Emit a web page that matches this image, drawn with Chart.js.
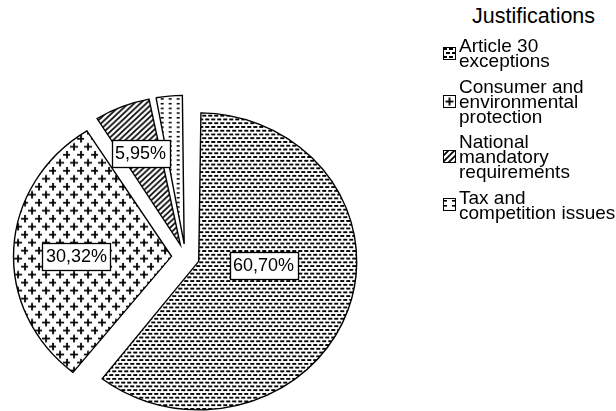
<!DOCTYPE html>
<html>
<head>
<meta charset="utf-8">
<script src="https://cdn.jsdelivr.net/npm/chart.js@4.4.1/dist/chart.umd.min.js"></script>
<style>
  html, body { margin:0; padding:0; background:#fff; overflow:hidden; }
  body { width:616px; height:411px; position:relative; font-family:"Liberation Sans", Arial, sans-serif; color:#000; }
  #pieBox { position:absolute; left:0; top:0; width:371px; height:514px; }
  #legendTitle { position:absolute; left:472px; top:5px; font-size:21.5px; line-height:22px; }
  #legend { position:absolute; left:443px; top:38px; }
  .item { display:flex; align-items:center; margin-bottom:10.5px; font-size:19px; line-height:15px; white-space:nowrap; }
  .item canvas { margin-right:3px; flex:none; }
</style>
</head>
<body>
<div id="pieBox"><canvas id="pie"></canvas></div>
<div id="legendTitle"></div>
<div id="legend"></div>
<script>
// ===== Data =====
const legendTitle = "Justifications";
const categories = [
  ["Article 30", "exceptions"],
  ["Consumer and", "environmental", "protection"],
  ["National", "mandatory", "requirements"],
  ["Tax and", "competition issues"]
];
const shares = [60.70, 30.32, 5.95, 3.03];

// ===== Look =====
const R = 158;        // pie radius, px
const SQUASH = 0.94;  // pie is drawn slightly flattened
const OFFSET = 14;    // how far each slice is pulled out, px
// where the value boxes sit: [fraction of radius, angle in degrees], null = no box
const labelSpots = [[0.497, 6.2], [0.69, 180.5], [0.717, 246.6], null];
const FONT = '"Liberation Sans", Arial, sans-serif';

// ===== Pattern tiles =====
function tile(w, h, draw){
  const c = document.createElement("canvas");
  c.width = w; c.height = h;
  const g = c.getContext("2d");
  g.fillStyle = "#fff"; g.fillRect(0, 0, w, h);
  g.fillStyle = "#000"; g.strokeStyle = "#000";
  draw(g);
  return c;
}
function plus(g, x, y){
  g.fillRect(x - 4, y - 0.9, 8, 1.8);
  g.fillRect(x - 0.9, y - 4, 1.8, 8);
}
const tiles = [
  // small staggered dashes
  tile(6, 8, g => { g.fillRect(0, 1, 4, 2); g.fillRect(3, 5, 3, 2); g.fillRect(0, 5, 1, 2); }),
  // plus signs
  tile(14, 17, g => { plus(g, 4, 4.5); plus(g, 11, 13); }),
  // forward hatch
  tile(6, 6, g => {
    g.lineWidth = 1.7;
    g.beginPath();
    g.moveTo(-1, 7); g.lineTo(7, -1);
    g.moveTo(-1, 1); g.lineTo(1, -1);
    g.moveTo(5, 7); g.lineTo(7, 5);
    g.stroke();
  }),
  // sparse dashes
  tile(8, 5, g => { g.fillRect(2, 2, 3, 1.6); })
];
const scratch = document.createElement("canvas").getContext("2d");
const fills = tiles.map(t => scratch.createPattern(t, "repeat"));

// ===== Plugins =====
// arc.draw grows a pulled-out slice's radius; shrink it back so every slice has radius R
const evenRadius = {
  id: "evenRadius",
  afterDatasetsUpdate(chart){
    chart.getDatasetMeta(0).data.forEach(arc => {
      const c = arc.endAngle - arc.startAngle;
      const fix = 1 - Math.sin(Math.min(Math.PI, c));
      arc.outerRadius = R - OFFSET * fix;
    });
  }
};

// flatten the slices a little around the pie centre
const squash = {
  id: "squash",
  beforeDatasetsDraw(chart){
    const arc = chart.getDatasetMeta(0).data[0];
    const ctx = chart.ctx;
    ctx.save();
    ctx.translate(arc.x, arc.y);
    ctx.scale(1, SQUASH);
    ctx.translate(-arc.x, -arc.y);
  },
  afterDatasetsDraw(chart){
    chart.ctx.restore();
  }
};

// value boxes: white rectangle, thin black frame, "60,70%"
const boxLabels = {
  id: "boxLabels",
  afterDatasetsDraw(chart){
    const ctx = chart.ctx;
    const arcs = chart.getDatasetMeta(0).data;
    ctx.save();
    ctx.font = "18px " + FONT;
    ctx.textAlign = "center";
    ctx.textBaseline = "middle";
    arcs.forEach((arc, i) => {
      const spot = labelSpots[i];
      if (!spot) return;
      const a = spot[1] * Math.PI / 180;
      const x = arc.x + Math.cos(a) * spot[0] * R;
      const y = arc.y + Math.sin(a) * spot[0] * R;
      const text = shares[i].toFixed(2).replace(".", ",") + "%";
      const w = Math.round(ctx.measureText(text).width) + 7, h = 27;
      const bx = Math.round(x - w / 2) + 0.5, by = Math.round(y - h / 2) + 0.5;
      ctx.fillStyle = "#fff";
      ctx.fillRect(bx, by, w, h);
      ctx.strokeStyle = "#000";
      ctx.lineWidth = 1.3;
      ctx.strokeRect(bx, by, w, h);
      ctx.fillStyle = "#000";
      ctx.fillText(text, x, y + 1);
    });
    ctx.restore();
  }
};

// ===== Chart =====
new Chart(document.getElementById("pie"), {
  type: "pie",
  data: {
    labels: categories,
    datasets: [{
      data: shares,
      backgroundColor: fills,
      borderColor: "#000",
      borderWidth: 1.4,
      borderJoinStyle: "miter",
      offset: OFFSET * 4
    }]
  },
  options: {
    responsive: true,
    maintainAspectRatio: false,
    animation: false,
    events: [],
    radius: R,
    layout: { padding: 0 },
    plugins: { legend: { display: false }, tooltip: { enabled: false } }
  },
  plugins: [evenRadius, squash, boxLabels]
});

// ===== Legend =====
document.getElementById("legendTitle").textContent = legendTitle;
const swatchShift = [null, [2.5, 2], null, [-1, 0]];
const legend = document.getElementById("legend");
categories.forEach((lines, i) => {
  const item = document.createElement("div");
  item.className = "item";
  const sw = document.createElement("canvas");
  sw.width = 13; sw.height = 13;
  const g = sw.getContext("2d");
  const p = g.createPattern(tiles[i], "repeat");
  if (swatchShift[i]) p.setTransform(new DOMMatrix().translate(swatchShift[i][0], swatchShift[i][1]));
  g.fillStyle = p;
  g.fillRect(0, 0, 13, 13);
  g.strokeStyle = "#000";
  g.lineWidth = 1;
  g.strokeRect(0.5, 0.5, 12, 12);
  const txt = document.createElement("div");
  txt.innerHTML = lines.join("<br>");
  item.append(sw, txt);
  legend.appendChild(item);
});
</script>
</body>
</html>
